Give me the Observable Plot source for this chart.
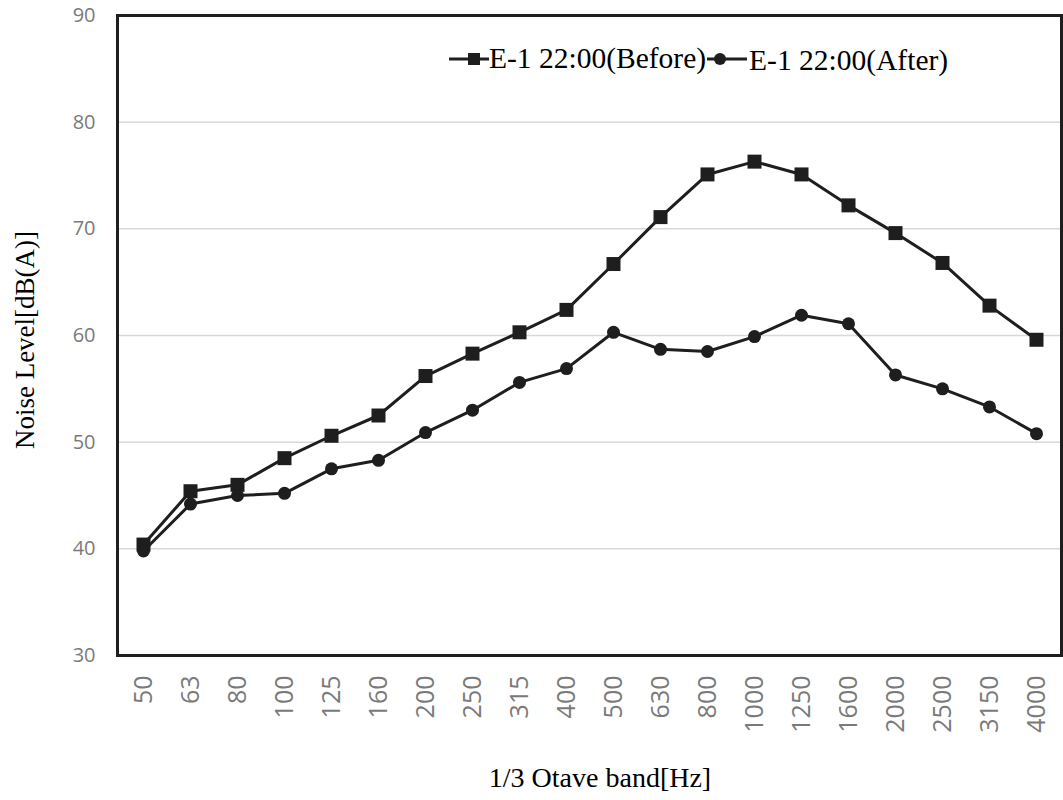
<!DOCTYPE html>
<html>
<head>
<meta charset="utf-8">
<script src="https://cdn.jsdelivr.net/npm/d3@7"></script>
<script src="https://cdn.jsdelivr.net/npm/@observablehq/plot@0.6"></script>
<style>
  html, body { margin: 0; padding: 0; background: #fff; }
  #wrap { position: relative; width: 1063px; height: 800px; overflow: hidden; }
  .title { position: absolute; font-family: "Liberation Serif", "Times New Roman", serif; color: #000; white-space: nowrap; }
  #legend { position: absolute; left: 449px; top: 42px; font-family: "Liberation Serif", "Times New Roman", serif; font-size: 29.5px; color: #000; white-space: nowrap; display: flex; align-items: center; }
  #legend svg { display: block; }
</style>
</head>
<body>
<div id="wrap"></div>
<script>
const bands = ["50","63","80","100","125","160","200","250","315","400","500","630","800","1000","1250","1600","2000","2500","3150","4000"];
const beforeValues = [40.4, 45.4, 46.0, 48.5, 50.6, 52.5, 56.2, 58.3, 60.3, 62.4, 66.7, 71.1, 75.1, 76.3, 75.1, 72.2, 69.6, 66.8, 62.8, 59.6];
const afterValues  = [39.8, 44.2, 45.0, 45.2, 47.5, 48.3, 50.9, 53.0, 55.6, 56.9, 60.3, 58.7, 58.5, 59.9, 61.9, 61.1, 56.3, 55.0, 53.3, 50.8];
const seriesNames = ["E-1 22:00(Before)", "E-1 22:00(After)"];
const yTicks = [30, 40, 50, 60, 70, 80, 90];
const gridTicks = [40, 50, 60, 70, 80];
const xTitle = "1/3 Otave band[Hz]";
const yTitle = "Noise Level[dB(A)]";

const before = bands.map((b, i) => ({band: b, value: beforeValues[i]}));
const after = bands.map((b, i) => ({band: b, value: afterValues[i]}));
const ink = "#1e1e1e";

const chart = Plot.plot({
  width: 1063,
  height: 800,
  marginLeft: 117,
  marginTop: 15,
  marginRight: 2,
  marginBottom: 145,
  style: {background: "#fff", overflow: "visible"},
  x: {type: "point", domain: bands, padding: 0.5},
  y: {domain: [30, 90]},
  marks: [
    Plot.gridY(gridTicks, {stroke: "#d8d8d8", strokeOpacity: 1, strokeWidth: 1.5}),
    Plot.axisY(yTicks, {tickSize: 0, tickPadding: 22, fontSize: 20, fontFamily: "'Open Sans', sans-serif", fill: "#7a7a7a", label: null}),
    Plot.axisX({tickSize: 0, tickPadding: 20, tickRotate: -90, fontSize: 25, fontFamily: "'Open Sans', sans-serif", fill: "#7a7a7a", label: null}),
    Plot.line(before, {x: "band", y: "value", stroke: ink, strokeWidth: 3}),
    Plot.line(after, {x: "band", y: "value", stroke: ink, strokeWidth: 3}),
    Plot.dot(before, {x: "band", y: "value", symbol: "square", r: 7.9, fill: ink, stroke: "none"}),
    Plot.dot(after, {x: "band", y: "value", symbol: "circle", r: 6.5, fill: ink, stroke: "none"}),
    Plot.frame({stroke: ink, strokeWidth: 3})
  ]
});

const wrap = document.getElementById("wrap");
wrap.appendChild(chart);

// axis titles
const xt = document.createElement("div");
xt.className = "title";
xt.textContent = xTitle;
xt.style.fontSize = "28px";
xt.style.left = "600px";
xt.style.top = "778px";
xt.style.transform = "translate(-50%, -50%)";
wrap.appendChild(xt);

const yt = document.createElement("div");
yt.className = "title";
yt.textContent = yTitle;
yt.style.fontSize = "27px";
yt.style.left = "25px";
yt.style.top = "340px";
yt.style.transform = "translate(-50%, -50%) rotate(-90deg)";
wrap.appendChild(yt);

// legend
const lg = document.createElement("div");
lg.id = "legend";
lg.innerHTML =
  `<svg width="40" height="20"><line x1="0" x2="40" y1="10" y2="10" stroke="${ink}" stroke-width="3"/><rect x="19" y="4" width="12" height="12" fill="${ink}"/></svg>` +
  `<span>${seriesNames[0]}</span>` +
  `<svg width="40" height="20" style="margin-left:1px"><line x1="0" x2="40" y1="10" y2="10" stroke="${ink}" stroke-width="3"/><circle cx="13" cy="10" r="6" fill="${ink}"/></svg>` +
  `<span style="position:relative; top:2px; margin-left:2px">${seriesNames[1]}</span>`;
wrap.appendChild(lg);
</script>
</body>
</html>
